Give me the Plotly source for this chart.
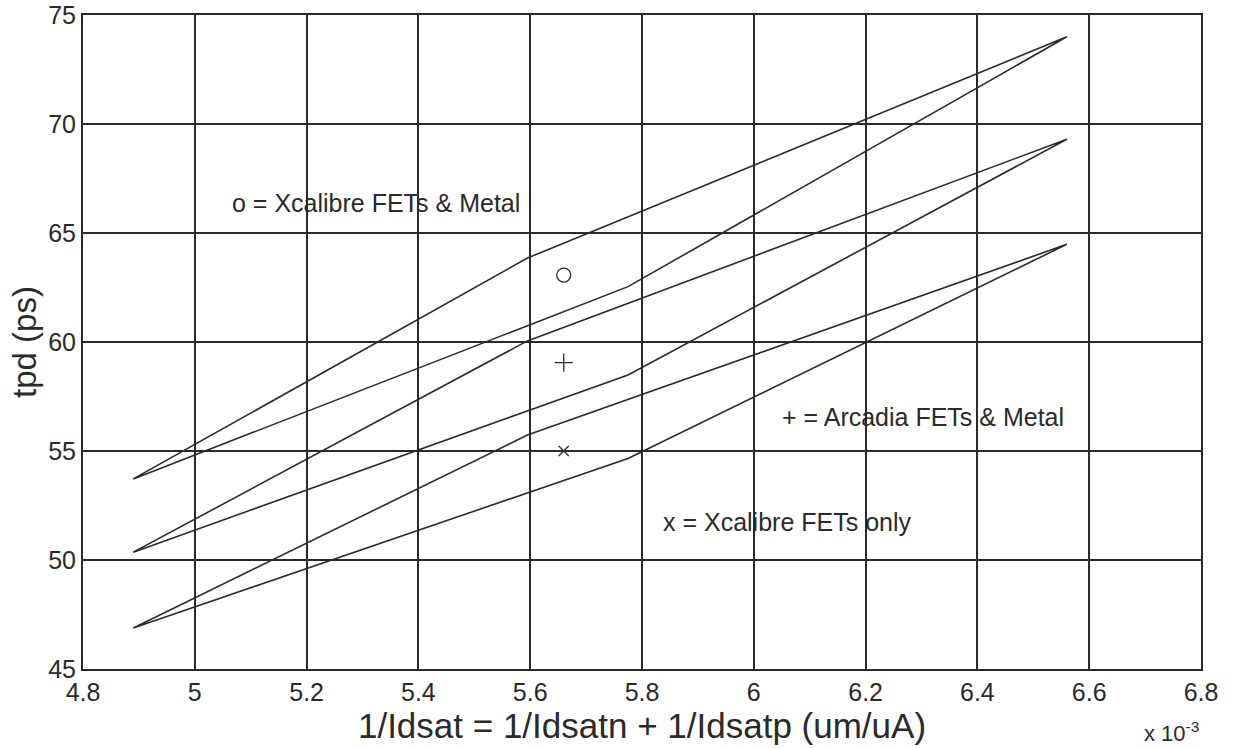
import plotly.graph_objects as go

# corner x positions (units of 1e-3 um/uA): left, upper, right, lower corner
corner_x = [4.89, 5.595, 6.56, 5.775]
tpd_xcal_metal = [53.72, 63.85, 74.0, 62.54]
tpd_arcadia = [50.36, 60.05, 69.30, 58.49]
tpd_xcal_fets = [46.88, 55.73, 64.48, 54.66]

marker_x = [5.66, 5.66, 5.66]
marker_y = [63.07, 59.05, 55.0]
marker_symbols = ["circle-open", "cross-thin-open", "x-thin-open"]
marker_sizes = [14, 13, 10]

labels = ["o = Xcalibre FETs & Metal", "+ = Arcadia FETs & Metal", "x = Xcalibre FETs only"]
label_x = [5.063, 6.047, 5.834]
label_y = [66.38, 56.57, 51.76]

x_ticks = [4.8, 5.0, 5.2, 5.4, 5.6, 5.8, 6.0, 6.2, 6.4, 6.6, 6.8]
x_tick_text = ["4.8", "5", "5.2", "5.4", "5.6", "5.8", "6", "6.2", "6.4", "6.6", "6.8"]
y_ticks = [45, 50, 55, 60, 65, 70, 75]

INK = "#2a2a2a"
FONT = "Liberation Sans, Arial, sans-serif"

fig = go.Figure()
for series in [tpd_xcal_metal, tpd_arcadia, tpd_xcal_fets]:
    fig.add_trace(go.Scatter(
        x=corner_x + corner_x[:1], y=series + series[:1],
        mode="lines", line=dict(color=INK, width=1.6), showlegend=False,
        hoverinfo="skip"))

for mx, my, sym, sz in zip(marker_x, marker_y, marker_symbols, marker_sizes):
    fig.add_trace(go.Scatter(
        x=[mx], y=[my], mode="markers",
        marker=dict(symbol=sym, size=sz, color=INK, line=dict(color=INK, width=1.3)),
        showlegend=False))

for t, lx, ly in zip(labels, label_x, label_y):
    fig.add_annotation(x=lx, y=ly, text=t, showarrow=False, xanchor="left",
                       yanchor="middle", font=dict(family=FONT, size=25, color=INK))

fig.add_annotation(xref="paper", yref="paper", x=1.0, y=-0.097, text="x 10<sup>-3</sup>",
                   showarrow=False, xanchor="right", yanchor="middle",
                   font=dict(family=FONT, size=22, color=INK))

fig.update_layout(
    width=1234, height=748,
    margin=dict(l=83, r=33, t=15, b=79, autoexpand=False),
    paper_bgcolor="white", plot_bgcolor="white",
    font=dict(family=FONT, color=INK),
    xaxis=dict(range=[4.8, 6.8], tickvals=x_ticks, ticktext=x_tick_text,
               showgrid=True, gridcolor=INK, gridwidth=1.6, automargin=False,
               showline=True, mirror=True, linecolor=INK, linewidth=2,
               ticklabeloverflow="allow",
               ticks="", zeroline=False, tickfont=dict(size=25, family=FONT, color=INK),
               title=dict(text="1/Idsat = 1/Idsatn + 1/Idsatp (um/uA)",
                          font=dict(size=35, family=FONT, color=INK), standoff=0)),
    yaxis=dict(range=[45, 75], tickvals=y_ticks,
               showgrid=True, gridcolor=INK, gridwidth=1.6, automargin=False,
               showline=True, mirror=True, linecolor=INK, linewidth=2,
               ticklabeloverflow="allow",
               ticks="", zeroline=False, tickfont=dict(size=25, family=FONT, color=INK),
               title=dict(text="tpd (ps)", font=dict(size=33, family=FONT, color=INK),
                          standoff=2)),
)

# remove the default 8px page margin so the 1234x748 figure fills the window exactly
fig.write_html("out.html",
               config={"displayModeBar": False},
               post_script="document.body.style.margin='0';document.body.style.overflow='hidden';")
